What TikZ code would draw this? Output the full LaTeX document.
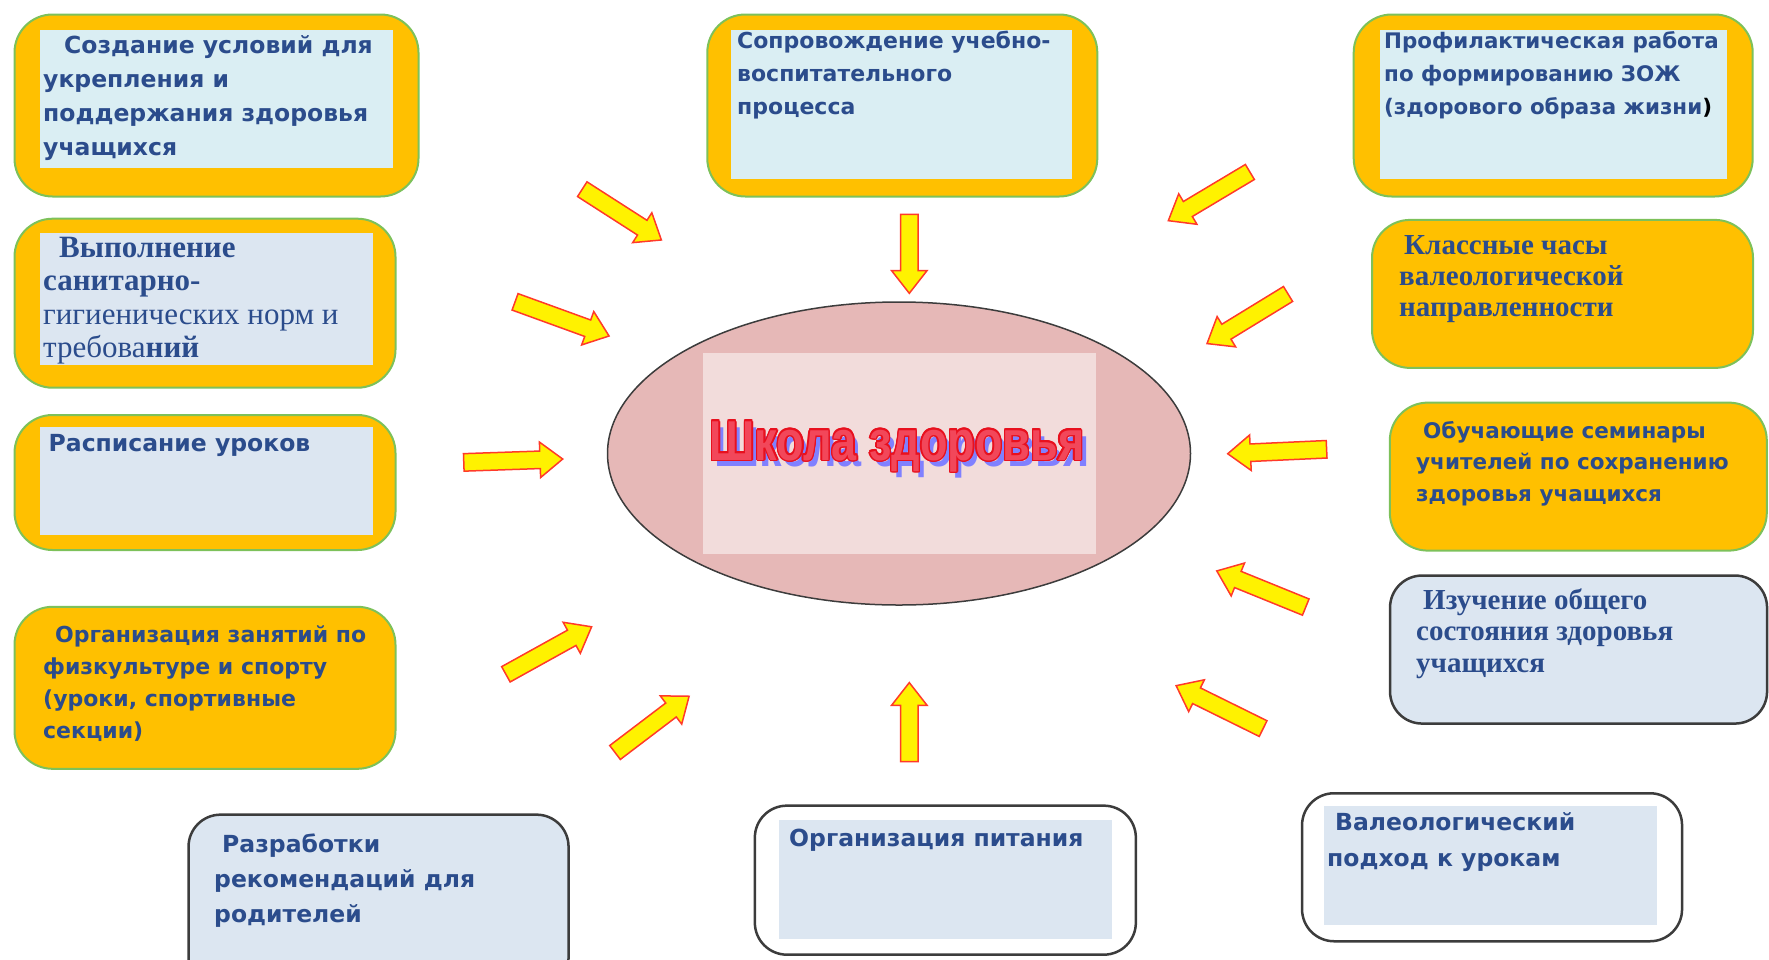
\documentclass[tikz,border=0pt]{standalone}
\usepackage{fontspec}
\usepackage[copies]{contour}
\usetikzlibrary{shapes.geometric,shapes.arrows}
\newfontfamily\boxsans{DejaVu Sans}
\newfontfamily\boxserif{Liberation Serif}
\newfontfamily\titlesans{Liberation Sans}
\definecolor{boxorange}{HTML}{FFC000}
\definecolor{boxgreen}{HTML}{7DC15A}
\definecolor{panecyan}{HTML}{DAEEF3}
\definecolor{paneblue}{HTML}{DCE6F1}
\definecolor{boxdark}{HTML}{3C3C3C}
\definecolor{textblue}{HTML}{2B4C8C}
\definecolor{ovalpink}{HTML}{E6B8B7}
\definecolor{ovalpale}{HTML}{F2DCDB}
\definecolor{titlered}{HTML}{F2475A}
\definecolor{titleedge}{HTML}{E8101E}
\definecolor{titleshadow}{HTML}{8080FF}
\definecolor{arrowedge}{HTML}{FF3A2A}
\contourlength{1.3pt}
\tikzset{
  orangebox/.style={draw=boxgreen, line width=2pt, fill=boxorange, rounded corners=38pt, anchor=north west, inner sep=0pt},
  darkbox/.style={draw=boxdark, line width=2.5pt, rounded corners=32pt, anchor=north west, inner sep=0pt},
  pane/.style={anchor=north west, inner sep=0pt},
  sanstxt/.style={anchor=base west, align=left, inner sep=0pt, text=textblue, font=\boxsans\bfseries\fontsize{23.5}{34}\selectfont},
  seriftxt/.style={anchor=base west, align=left, inner sep=0pt, text=textblue, font=\boxserif\bfseries\fontsize{29}{31.5}\selectfont},
  blockarrow/.style={single arrow, draw=arrowedge, fill=yellow, line width=1.5pt, inner xsep=0pt, inner ysep=8pt, single arrow head extend=9pt, single arrow tip angle=76, sloped, allow upside down}
}
\begin{document}
\begin{tikzpicture}[x=1pt,y=-1pt]
\useasboundingbox (0,0) rectangle (1769,959);
\clip (0,0) rectangle (1769,959);
% left column (text nodes sit on the baseline of their last line)
\node[orangebox, minimum width=404pt, minimum height=182pt] (b1) at (13.5,13.5) {};
\node[pane, fill=panecyan, minimum width=353pt, minimum height=138pt] (p1) at (39.5,29.3) {};
\node[sanstxt] (t1) at (43,155) {\hspace*{21pt}Создание условий для\\укрепления и\\поддержания здоровья\\учащихся};
\node[orangebox, minimum width=381pt, minimum height=169pt] (b2) at (13.5,217.7) {};
\node[pane, fill=paneblue, minimum width=333pt, minimum height=132pt] (p2) at (39.5,232.4) {};
\node[seriftxt, font=\boxserif\bfseries\fontsize{31}{33.5}\selectfont] (t2) at (43,357.5) {\hspace*{16pt}Выполнение\\санитарно-\\{\mdseries гигиенических норм и}\\{\mdseries требова}ний};
\node[orangebox, minimum width=381pt, minimum height=135pt] (b3) at (13.5,414) {};
\node[pane, fill=paneblue, minimum width=333pt, minimum height=108pt] (p3) at (39.5,426.5) {};
\node[sanstxt] (t3) at (48.5,451) {Расписание уроков};
\node[orangebox, minimum width=381pt, minimum height=162pt] (b4) at (13.5,605.8) {};
\node[sanstxt, font=\boxsans\bfseries\fontsize{22}{31.7}\selectfont] (t4) at (43,738) {\hspace*{12pt}Организация занятий по\\физкультуре и спорту\\(уроки, спортивные\\секции)};
% bottom row
\node[darkbox, fill=paneblue, minimum width=380pt, minimum height=175pt] (b5) at (187.3,813.4) {};
\node[sanstxt, font=\boxsans\bfseries\fontsize{23.5}{35}\selectfont] (t5) at (214,922) {\hspace*{8pt}Разработки\\рекомендаций для\\родителей};
\node[darkbox, fill=white, minimum width=381pt, minimum height=149pt] (b6) at (753.6,804.4) {};
\node[pane, fill=paneblue, minimum width=333pt, minimum height=118.5pt] (p6) at (778.5,820.2) {};
\node[sanstxt] (t6) at (789,846) {Организация питания};
\node[darkbox, fill=white, minimum width=380pt, minimum height=148pt] (b7) at (1300.8,792) {};
\node[pane, fill=paneblue, minimum width=333pt, minimum height=119.5pt] (p7) at (1323.4,805.5) {};
\node[sanstxt, font=\boxsans\bfseries\fontsize{23.5}{36.6}\selectfont] (t7) at (1327,866.6) {\hspace*{8pt}Валеологический\\подход к урокам};
% right column
\node[darkbox, fill=paneblue, minimum width=377pt, minimum height=148pt] (b8) at (1388.8,574.3) {};
\node[seriftxt, font=\boxserif\bfseries\fontsize{29}{31.7}\selectfont] (t8) at (1416,672.4) {\hspace*{7pt}Изучение общего\\состояния здоровья\\учащихся};
\node[orangebox, minimum width=377pt, minimum height=148pt] (b9) at (1388.8,401.6) {};
\node[sanstxt, font=\boxsans\bfseries\fontsize{21.5}{31.5}\selectfont] (t9) at (1416,501) {\hspace*{7pt}Обучающие семинары\\учителей по сохранению\\здоровья учащихся};
\node[orangebox, minimum width=381pt, minimum height=148pt] (b10) at (1371,218.9) {};
\node[seriftxt, font=\boxserif\bfseries\fontsize{29}{31}\selectfont] (t10) at (1399,316) {\hspace*{5pt}Классные часы\\валеологической\\направленности};
\node[orangebox, minimum width=399pt, minimum height=182pt] (b11) at (1352.7,13.5) {};
\node[pane, fill=panecyan, minimum width=347pt, minimum height=149pt] (p11) at (1379.3,29.3) {};
\node[sanstxt, font=\boxsans\bfseries\fontsize{21.4}{32.7}\selectfont] (t11) at (1384,114) {Профилактическая работа\\по формированию ЗОЖ\\(здорового образа жизни\textcolor{black}{)}};
\node[orangebox, minimum width=390pt, minimum height=182pt] (b12) at (706.3,13.5) {};
\node[pane, fill=panecyan, minimum width=341pt, minimum height=149pt] (p12) at (731,29.3) {};
\node[sanstxt, font=\boxsans\bfseries\fontsize{22}{32.7}\selectfont] (t12) at (737,114) {Сопровождение учебно-\\воспитательного\\процесса};
% centre
\node[ellipse, draw=boxdark, line width=1.5pt, fill=ovalpink, minimum width=583pt, minimum height=303pt, inner sep=0pt] (school) at (899,453.5) {};
\node[fill=ovalpale, minimum width=393pt, minimum height=201pt, inner sep=0pt] (schoolpane) at (899,453.5) {};
\node[text=titleshadow, font=\titlesans\bfseries\fontsize{45}{50}\selectfont, yscale=1.25, anchor=base, inner sep=0pt] (shadow) at (902,466) {Школа здоровья};
\node[text=titlered, font=\titlesans\bfseries\fontsize{45}{50}\selectfont, yscale=1.25, anchor=base, inner sep=0pt] (title) at (897,460) {\contour{titleedge}{Школа здоровья}};
% arrows
\coordinate (s1) at (577.6,186.2); \coordinate (e1) at (656.6,236.9);
\coordinate (s2) at (510,300); \coordinate (e2) at (603.6,334);
\coordinate (s3) at (458,462.6); \coordinate (e3) at (557.3,459.2);
\coordinate (s4) at (501,677); \coordinate (e4) at (586.7,629.5);
\coordinate (s5) at (610.4,756); \coordinate (e5) at (684.8,699.5);
\coordinate (s6) at (909.3,767.2); \coordinate (e6) at (909.3,688.2);
\coordinate (s7) at (1268,731); \coordinate (e7) at (1181.3,688.2);
\coordinate (s8) at (1311,609.2); \coordinate (e8) at (1221.9,573);
\coordinate (s9) at (1332.4,449); \coordinate (e9) at (1233.1,453.5);
\coordinate (s10) at (1292.9,291); \coordinate (e10) at (1211.7,340.7);
\coordinate (s11) at (1254.5,169.2); \coordinate (e11) at (1173.3,217.7);
\coordinate (s12) at (909.3,208.7); \coordinate (e12) at (909.3,287.7);
\path (s1) -- node[blockarrow, minimum height=94pt] (a1) {} (e1);
\path (s2) -- node[blockarrow, minimum height=100pt] (a2) {} (e2);
\path (s3) -- node[blockarrow, minimum height=99pt] (a3) {} (e3);
\path (s4) -- node[blockarrow, minimum height=98pt] (a4) {} (e4);
\path (s5) -- node[blockarrow, minimum height=93pt] (a5) {} (e5);
\path (s6) -- node[blockarrow, minimum height=79pt] (a6) {} (e6);
\path (s7) -- node[blockarrow, minimum height=97pt] (a7) {} (e7);
\path (s8) -- node[blockarrow, minimum height=96pt] (a8) {} (e8);
\path (s9) -- node[blockarrow, minimum height=99pt] (a9) {} (e9);
\path (s10) -- node[blockarrow, minimum height=95pt] (a10) {} (e10);
\path (s11) -- node[blockarrow, minimum height=95pt] (a11) {} (e11);
\path (s12) -- node[blockarrow, minimum height=79pt] (a12) {} (e12);
\end{tikzpicture}
\end{document}
